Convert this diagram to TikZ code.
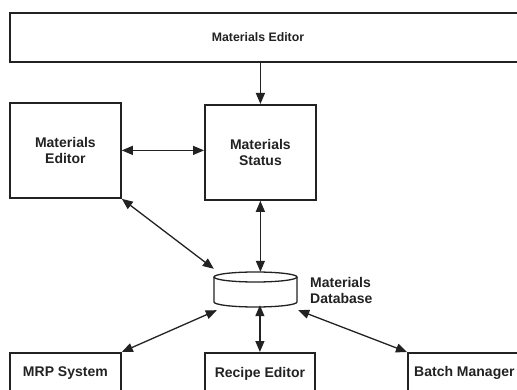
\documentclass[tikz,border=0pt]{standalone}
\usepackage{fontspec}
\setmainfont{Liberation Sans}
\usetikzlibrary{arrows.meta}
\definecolor{ink}{HTML}{222222}
\begin{document}
\begin{tikzpicture}[x=1pt,y=-1pt,
  tip/.tip={Triangle[length=11pt,width=9pt]},
  box/.style={draw=ink,line width=1.8pt,rectangle,inner sep=0pt,anchor=north west},
  lbl/.style={font=\bfseries\fontsize{14}{16.5}\selectfont,text=ink,inner sep=0pt,align=center},
  conn/.style={draw=ink,line width=1.3pt,{tip}-{tip}},
  conn1/.style={draw=ink,line width=1.3pt,-{tip}}]
\useasboundingbox (0,0) rectangle (517,390);
\clip (0,0) rectangle (517,390);
% top box
\node[box,minimum width=521pt,minimum height=49pt] (top) at (9,12) {};
\node[lbl,font=\bfseries\fontsize{12.3}{14}\selectfont] (toplbl) at (258,37) {Materials Editor};
% middle boxes
\node[box,minimum width=111pt,minimum height=95pt,lbl] (ed) at (9,102) {Materials\\Editor};
\node[box,minimum width=111pt,minimum height=95pt,lbl] (st) at (204,104) {Materials\\Status};
% database
\node[minimum width=83pt,minimum height=35pt,inner sep=0pt] (db) at (255.5,289.5) {};
\draw[ink,line width=1.3pt,fill=white] (214,277) -- (214,302) arc[start angle=180,end angle=360,x radius=41.5,y radius=-5] -- (297,277);
\draw[ink,line width=1.3pt] (255.5,277) ellipse[x radius=41.5,y radius=5];
\node[lbl,anchor=west,align=left] (dblbl) at (310,290.5) {Materials\\Database};
% bottom boxes
\node[box,minimum width=111pt,minimum height=41pt,lbl] (mrp) at (9,352) {MRP System};
\node[box,minimum width=110pt,minimum height=41pt,lbl] (rec) at (204,352) {Recipe Editor};
\node[box,minimum width=113pt,minimum height=41pt,lbl] (bm) at (407,352) {Batch Manager};
% connectors
\draw[conn1] (top.south -| st.north) -- (st.north);
\draw[conn] (ed.east) -- (ed.east -| st.west);
\draw[conn] (st.south) -- (st.south |- db.north);
\draw[conn] (ed.south east) -- ([yshift=3pt]db.north west);
\draw[conn] (mrp.north east) -- ([xshift=3pt,yshift=-3pt]db.south west);
\draw[conn] (rec.north) -- ([yshift=2pt]rec.north |- db.south);
\draw[conn] (bm.north west) -- ([xshift=1pt,yshift=-3pt]db.south east);
\end{tikzpicture}
\end{document}
